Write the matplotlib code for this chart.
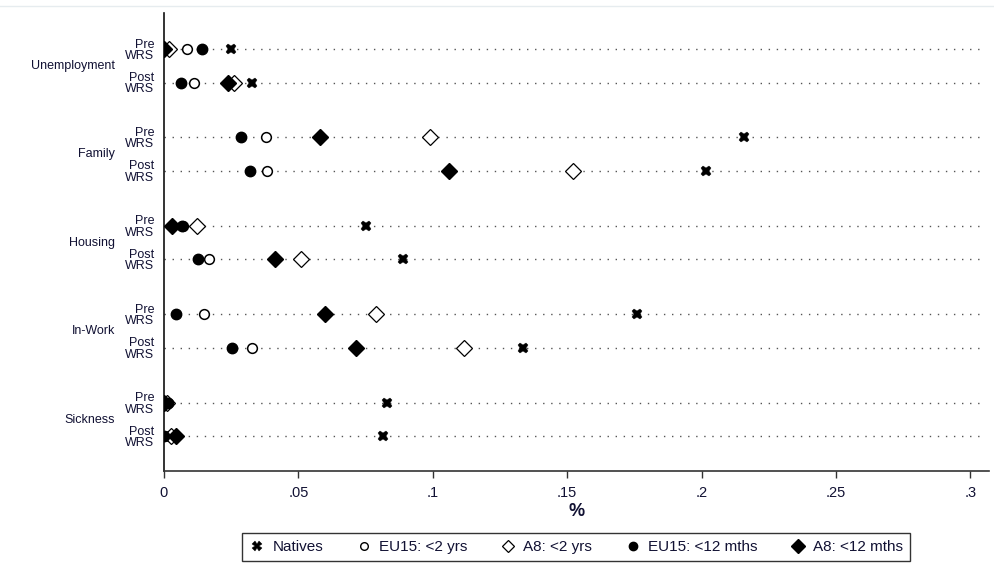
import matplotlib
matplotlib.use("Agg")
import matplotlib.pyplot as plt
from matplotlib.lines import Line2D

categories = ["Unemployment", "Family", "Housing", "In-Work", "Sickness"]
periods = ["Pre\nWRS", "Post\nWRS"]

# values per row: order Unemp Pre, Unemp Post, Family Pre, Family Post, ...
natives      = [0.0250, 0.0328, 0.2156, 0.2015, 0.0752, 0.0890, 0.1760, 0.1337, 0.0830, 0.0816]
eu15_2yrs    = [0.0086, 0.0112, 0.0380, 0.0384, 0.0070, 0.0169, 0.0148, 0.0329, 0.0010, 0.0020]
a8_2yrs      = [0.0020, 0.0260, 0.0990, 0.1523, 0.0122, 0.0510, 0.0790, 0.1117, 0.0010, 0.0025]
eu15_12mths  = [0.0140, 0.0063, 0.0287, 0.0320, 0.0067, 0.0127, 0.0044, 0.0254, 0.0015, 0.0000]
a8_12mths    = [0.0000, 0.0238, 0.0580, 0.1061, 0.0030, 0.0413, 0.0600, 0.0714, 0.0000, 0.0045]

xticks = [0, 0.05, 0.1, 0.15, 0.2, 0.25, 0.3]
xticklabels = ["0", ".05", ".1", ".15", ".2", ".25", ".3"]

plt.rcParams["font.family"] = ["Liberation Sans", "DejaVu Sans"]
txtc = "#111133"

fig = plt.figure(figsize=(9.95, 5.72), dpi=100)
ax = fig.add_axes([164/995, 1-471/572, (989-164)/995, (471-13)/572])

group_gap = 2.64
ypos = []
for g in range(len(categories)):
    ypos += [g*group_gap, g*group_gap + 1]

xmax = 0.3069
for y in ypos:
    ax.plot([0, 0.3045], [y, y], color="#555555", lw=1.0, dashes=(1, 4.8), zorder=1)

ax.plot(natives, ypos, ls="none", marker="X", ms=7.8, color="black", mec="black", mew=0.3, zorder=3)
ax.plot(eu15_2yrs, ypos, ls="none", marker="o", ms=7, mfc="white", mec="black", mew=1.1, zorder=3)
ax.plot(a8_2yrs, ypos, ls="none", marker="D", ms=8, mfc="white", mec="black", mew=0.9, zorder=3)
ax.plot(eu15_12mths, ypos, ls="none", marker="o", ms=7.5, mfc="black", mec="black", zorder=4)
ax.plot(a8_12mths, ypos, ls="none", marker="D", ms=8.5, mfc="black", mec="black", zorder=5)

ax.set_xlim(0, xmax)
ax.set_ylim((471-49)/33.5, (13-49)/33.5)
ax.set_xticks(xticks)
ax.set_xticklabels(xticklabels, fontsize=10.5, color=txtc)
ax.tick_params(axis="x", direction="out", length=5, width=1, pad=6, color="#333333")
ax.set_yticks(ypos)
ax.set_yticklabels(periods*len(categories), fontsize=9, linespacing=0.92, color=txtc)
ax.tick_params(axis="y", length=0, pad=7)
for s in ["top", "right"]:
    ax.spines[s].set_visible(False)
ax.spines["left"].set_linewidth(1.2)
ax.spines["bottom"].set_linewidth(1.2)
ax.spines["bottom"].set_color("#333333")
ax.spines["left"].set_color("#111111")

for g, cat in enumerate(categories):
    yc = g*group_gap + 0.5
    ax.text(-0.0182, yc, cat, ha="right", va="center", fontsize=9, color=txtc,
            transform=ax.transData, clip_on=False)

ax.set_xlabel("%", fontsize=13, fontweight="bold", labelpad=2, color=txtc)

handles = [
    Line2D([], [], ls="none", marker="X", ms=6.5, color="black", mew=0.3),
    Line2D([], [], ls="none", marker="o", ms=5.5, mfc="white", mec="black", mew=1),
    Line2D([], [], ls="none", marker="D", ms=6.5, mfc="white", mec="black", mew=0.9),
    Line2D([], [], ls="none", marker="o", ms=6, mfc="black", mec="black"),
    Line2D([], [], ls="none", marker="D", ms=7, mfc="black", mec="black"),
]
labels = ["Natives", "EU15: <2 yrs", "A8: <2 yrs", "EU15: <12 mths", "A8: <12 mths"]
leg = fig.legend(handles, labels, loc="center", bbox_to_anchor=(576/995, 1-547/572), ncol=5,
                 frameon=True, fancybox=False, edgecolor="black", handlelength=1.1,
                 handletextpad=0.45, columnspacing=2.1, borderpad=0.45,
                 prop={"size": 11})
for t in leg.get_texts():
    t.set_color(txtc)
leg.get_frame().set_linewidth(1.0)

# faint top border line
fig.add_artist(Line2D([0.0, 1.0], [1-6/572, 1-6/572], color="#e6ecef", lw=1))

fig.savefig("out.png", dpi=100, facecolor="white")
